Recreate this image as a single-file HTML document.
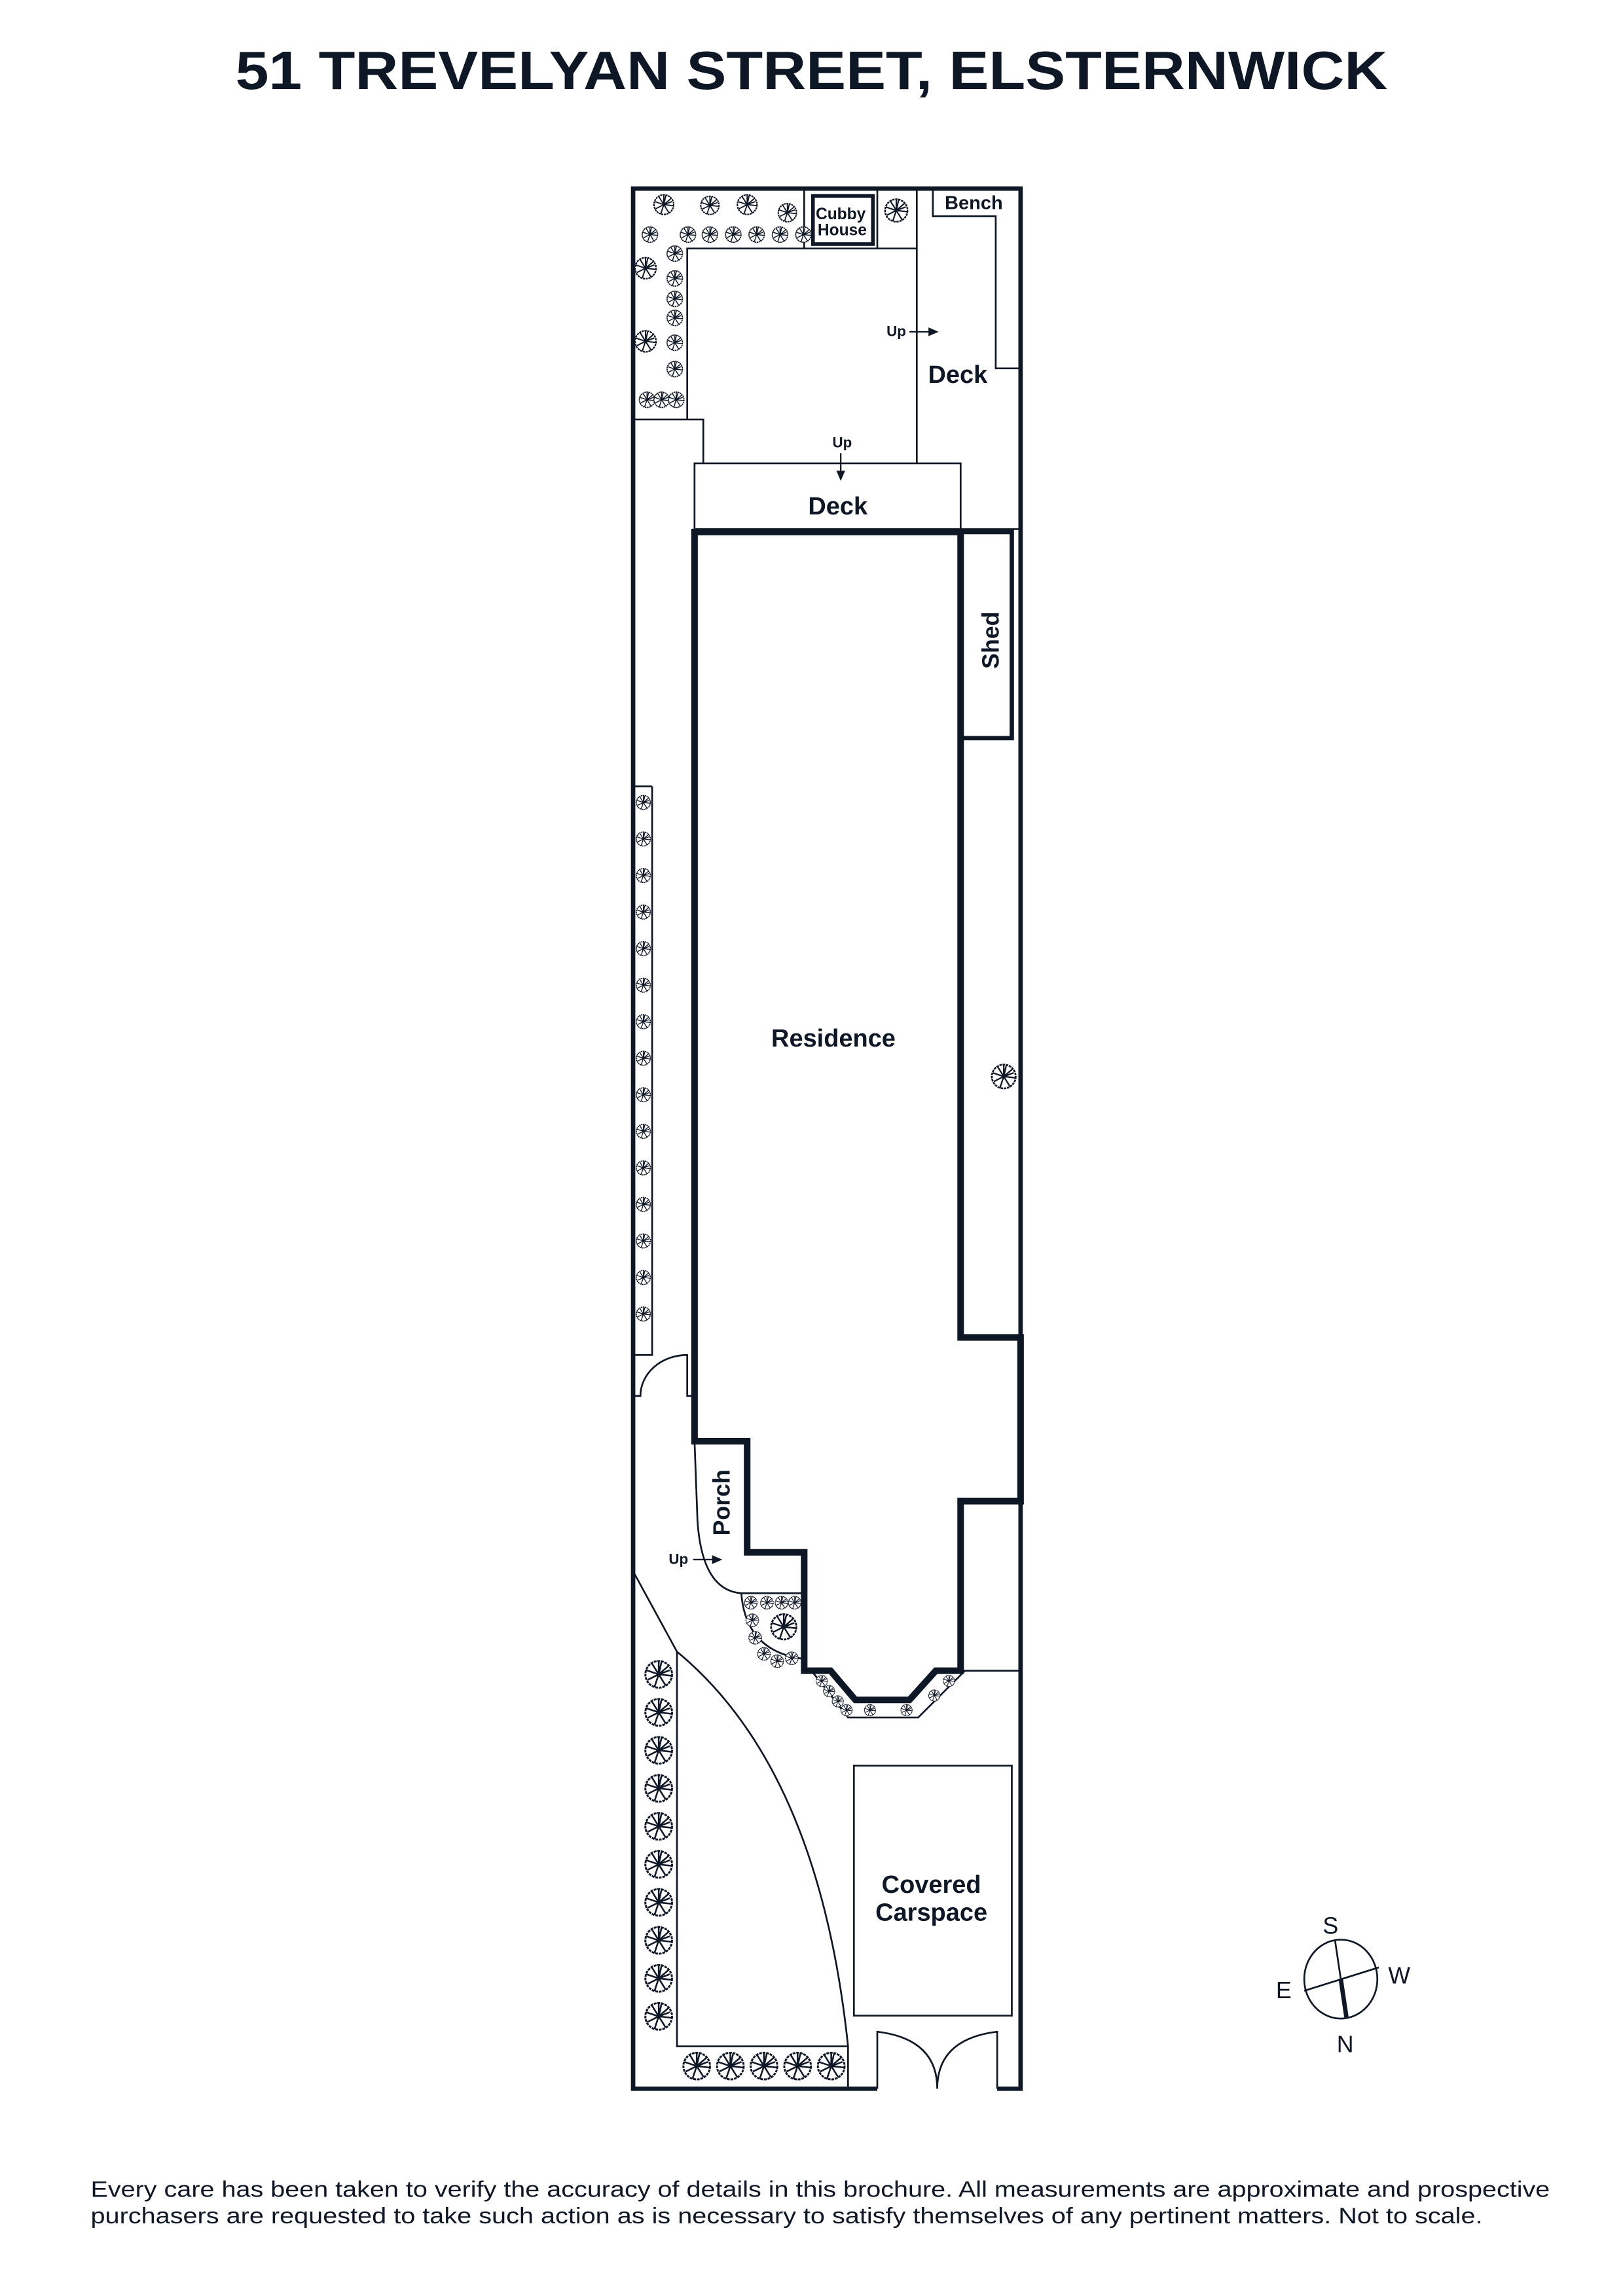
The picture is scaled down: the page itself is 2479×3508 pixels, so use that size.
<!DOCTYPE html>
<html><head><meta charset="utf-8"><style>html,body{margin:0;padding:0;background:#fff}svg{display:block}</style></head><body>
<svg width="2479" height="3508" viewBox="0 0 1110 1570.8" xmlns="http://www.w3.org/2000/svg" font-family="Liberation Sans, sans-serif" fill="none" stroke="#0e1726">
<defs>
<symbol id="t" viewBox="-10 -10 20 20" overflow="visible">
<circle r="9.6" fill="#fff" stroke="#0e1726" stroke-width="1.4" stroke-dasharray="2 0.6"/>
<path d="M0 0L0 -9M0 0L7 -6M0 0L9 1M0 0L5 8M0 0L-3 9M0 0L-8 4M0 0L-9 -3M0 0L-5 -8M0 0L2 -9M0 0L8 -3" stroke="#0e1726" stroke-width="1.2"/>
</symbol>
</defs>
<text x="555" y="61" font-size="37" font-weight="bold" fill="#0e1726" stroke="none" text-anchor="middle" textLength="788" lengthAdjust="spacingAndGlyphs">51 TREVELYAN STREET, ELSTERNWICK</text>

<path d="M600 1429 L433 1429 L433 129 L698 129 L698 1429 L682 1429" stroke-width="3"/>
<g stroke-width="1.2">
<path d="M433 287 L481 287 L481 317"/>
<path d="M470 287 L470 170 L627 170"/>
<path d="M550 129 L550 170 M600 129 L600 170 M627 129 L627 317"/>
<path d="M638 129 L638 148 L681 148 L681 252 L698 252"/>
<rect x="475" y="317" width="182" height="45"/>
<path d="M657 362 L698 362"/>
<path d="M446 538 L446 927 L433 927 M446 538 L433 538"/>
<path d="M433 955 L438 955 A32 28 0 0 1 470 927 L470 955 L475 955"/>
<path d="M475 986 L477 1040 Q480 1088 507 1090 L550 1090"/>
<path d="M507 1090 Q510 1130 550 1135"/>
<path d="M555 1143 L580 1175 L628 1175 L660 1143"/>
<path d="M657 1143 L698 1143"/>
<path d="M433 1075 L463 1130 Q560 1210 580 1400 L580 1429"/>
<path d="M463 1130 L463 1400 L580 1400"/>
<rect x="584" y="1208" width="108" height="171"/>
<path d="M600 1429 L600 1390 Q641 1395 641 1429 M682 1429 L682 1390 Q641 1395 641 1429"/>
</g>
<rect x="556" y="134" width="41" height="33" stroke-width="2.5"/>
<path d="M475 364 L657 364 L657 915 L698 915 L698 1027 L657 1027 L657 1143 L640 1143 L622 1163 L585 1163 L568 1143 L550 1143 L550 1062 L511 1062 L511 986 L475 986 Z" stroke-width="4.5" stroke-linejoin="miter"/>
<rect x="657" y="364" width="35" height="141" stroke-width="3"/>
<g stroke-width="1" fill="#0e1726">
<path d="M622 227 L636 227" /><path d="M642 227 L635 224 L635 230 Z" stroke="none"/>
<path d="M575 310 L575 322"/><path d="M575 329 L572 322 L578 322 Z" stroke="none"/>
<path d="M474 1067 L487 1067"/><path d="M494 1067 L487 1064 L487 1070 Z" stroke="none"/>
</g>
<g fill="#0e1726" stroke="none" font-weight="bold">
<text x="575" y="150" font-size="11" text-anchor="middle">Cubby</text>
<text x="576" y="161" font-size="11" text-anchor="middle">House</text>
<text x="666" y="143" font-size="13" text-anchor="middle">Bench</text>
<text x="613" y="230" font-size="10" text-anchor="middle">Up</text>
<text x="655" y="262" font-size="17" text-anchor="middle">Deck</text>
<text x="576" y="306" font-size="10" text-anchor="middle">Up</text>
<text x="573" y="352" font-size="17" text-anchor="middle">Deck</text>
<text x="570" y="716" font-size="17" text-anchor="middle">Residence</text>
<text transform="translate(683 438) rotate(-90)" font-size="16" text-anchor="middle">Shed</text>
<text transform="translate(499 1028) rotate(-90)" font-size="16" text-anchor="middle">Porch</text>
<text x="464" y="1070" font-size="10" text-anchor="middle">Up</text>
<text x="637" y="1295" font-size="17" text-anchor="middle">Covered</text>
<text x="637" y="1314" font-size="17" text-anchor="middle">Carspace</text>
</g>
<g stroke-width="1.2">
<ellipse cx="917" cy="1354" rx="25" ry="27"/>
<path d="M913 1327 L917 1354" /><path d="M917 1354 L921 1381" stroke-width="3"/>
<path d="M892 1362 L943 1346"/>
</g>
<g fill="#0e1726" stroke="none" font-size="16">
<text x="910" y="1323" text-anchor="middle">S</text>
<text x="878" y="1367" text-anchor="middle">E</text>
<text x="957" y="1357" text-anchor="middle">W</text>
<text x="920" y="1404" text-anchor="middle">N</text>
</g>
<g fill="#0e1726" stroke="none" font-size="15.5">
<text x="62" y="1503" textLength="998" lengthAdjust="spacingAndGlyphs">Every care has been taken to verify the accuracy of details in this brochure. All measurements are approximate and prospective</text>
<text x="62" y="1521" textLength="952" lengthAdjust="spacingAndGlyphs">purchasers are requested to take such action as is necessary to satisfy themselves of any pertinent matters. Not to scale.</text>
</g>
<g>
<use href="#t" x="447" y="133" width="14" height="14"/>
<use href="#t" x="479" y="134" width="13" height="13"/>
<use href="#t" x="504" y="133" width="14" height="14"/>
<use href="#t" x="532" y="139" width="13" height="13"/>
<use href="#t" x="605" y="136" width="16" height="16"/>
<use href="#t" x="439" y="155" width="11" height="11"/>
<use href="#t" x="465" y="155" width="11" height="11"/>
<use href="#t" x="480" y="155" width="11" height="11"/>
<use href="#t" x="496" y="155" width="11" height="11"/>
<use href="#t" x="512" y="155" width="11" height="11"/>
<use href="#t" x="528" y="155" width="11" height="11"/>
<use href="#t" x="544" y="155" width="11" height="11"/>
<use href="#t" x="456" y="168" width="11" height="11"/>
<use href="#t" x="456" y="185" width="11" height="11"/>
<use href="#t" x="456" y="199" width="11" height="11"/>
<use href="#t" x="456" y="212" width="11" height="11"/>
<use href="#t" x="456" y="229" width="11" height="11"/>
<use href="#t" x="456" y="247" width="11" height="11"/>
<use href="#t" x="434" y="226" width="15" height="15"/>
<use href="#t" x="434" y="176" width="15" height="15"/>
<use href="#t" x="437" y="268" width="11" height="11"/>
<use href="#t" x="447" y="268" width="11" height="11"/>
<use href="#t" x="457" y="268" width="11" height="11"/>
<use href="#t" x="678" y="728" width="17" height="17"/>
</g>
<g>
<use href="#t" x="435" y="544" width="10" height="10"/><use href="#t" x="435" y="569" width="10" height="10"/><use href="#t" x="435" y="594" width="10" height="10"/><use href="#t" x="435" y="619" width="10" height="10"/><use href="#t" x="435" y="644" width="10" height="10"/><use href="#t" x="435" y="669" width="10" height="10"/><use href="#t" x="435" y="694" width="10" height="10"/><use href="#t" x="435" y="719" width="10" height="10"/><use href="#t" x="435" y="744" width="10" height="10"/><use href="#t" x="435" y="769" width="10" height="10"/><use href="#t" x="435" y="794" width="10" height="10"/><use href="#t" x="435" y="819" width="10" height="10"/><use href="#t" x="435" y="844" width="10" height="10"/><use href="#t" x="435" y="869" width="10" height="10"/><use href="#t" x="435" y="894" width="10" height="10"/>
</g>
<g>
<use href="#t" x="441" y="1136" width="19" height="19"/><use href="#t" x="441" y="1162" width="19" height="19"/><use href="#t" x="441" y="1188" width="19" height="19"/><use href="#t" x="441" y="1214" width="19" height="19"/><use href="#t" x="441" y="1240" width="19" height="19"/><use href="#t" x="441" y="1266" width="19" height="19"/><use href="#t" x="441" y="1292" width="19" height="19"/><use href="#t" x="441" y="1318" width="19" height="19"/><use href="#t" x="441" y="1344" width="19" height="19"/><use href="#t" x="441" y="1370" width="19" height="19"/>
<use href="#t" x="467" y="1404" width="19" height="19"/><use href="#t" x="490" y="1404" width="19" height="19"/><use href="#t" x="513" y="1404" width="19" height="19"/><use href="#t" x="536" y="1404" width="19" height="19"/><use href="#t" x="559" y="1404" width="19" height="19"/>
</g>
<g>
<use href="#t" x="509" y="1092" width="9" height="9"/><use href="#t" x="520" y="1092" width="9" height="9"/><use href="#t" x="530" y="1092" width="9" height="9"/><use href="#t" x="539" y="1092" width="9" height="9"/>
<use href="#t" x="510" y="1104" width="9" height="9"/><use href="#t" x="512" y="1116" width="9" height="9"/><use href="#t" x="518" y="1127" width="9" height="9"/><use href="#t" x="527" y="1132" width="9" height="9"/><use href="#t" x="537" y="1130" width="9" height="9"/>
<use href="#t" x="527" y="1104" width="18" height="18"/>
<use href="#t" x="558" y="1146" width="8" height="8"/><use href="#t" x="563" y="1153" width="8" height="8"/><use href="#t" x="569" y="1160" width="8" height="8"/><use href="#t" x="575" y="1166" width="8" height="8"/><use href="#t" x="591" y="1166" width="8" height="8"/><use href="#t" x="616" y="1166" width="8" height="8"/><use href="#t" x="635" y="1156" width="8" height="8"/><use href="#t" x="645" y="1146" width="8" height="8"/>
</g>
</svg>
</body></html>
